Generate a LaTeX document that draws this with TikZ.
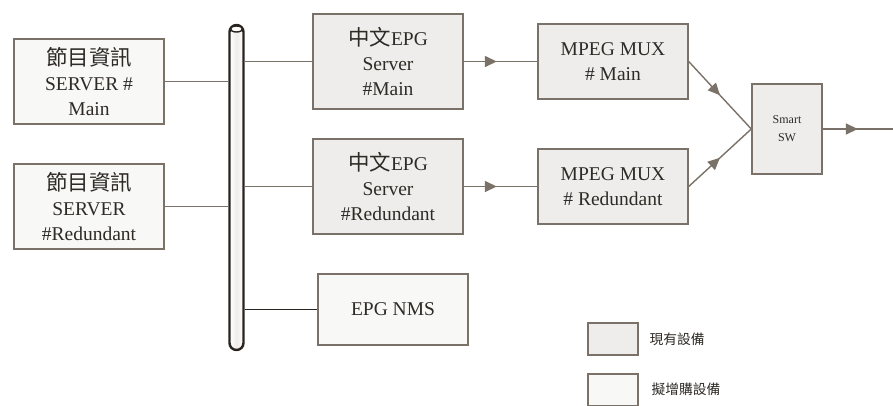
\documentclass[tikz,border=0pt]{standalone}
\usepackage{fontspec}
\setmainfont{Liberation Serif}
\newfontfamily\cjk[Scale=1.1]{Noto Sans CJK TC}
\usetikzlibrary{arrows.meta,decorations.markings,positioning}
\definecolor{edge}{HTML}{7A7268}
\definecolor{oldfill}{HTML}{EFEDEB}
\definecolor{newfill}{HTML}{F8F8F6}
\definecolor{busline}{HTML}{2A2420}
\definecolor{ink}{HTML}{2E2A26}
\tikzset{
  box/.style={draw=edge, line width=1.4pt, minimum width=150pt, align=center,
    text=ink, font=\fontsize{19.5}{25}\selectfont, inner sep=2pt},
  oldbox/.style={box, fill=oldfill},
  newbox/.style={box, fill=newfill},
  wire/.style={draw=edge, line width=1.4pt},
  flow/.style={wire, postaction={decorate}, decoration={markings,
    mark=at position #1 with {\arrow[edge]{Triangle[length=12pt,width=11pt]}}}},
  flow/.default=0.45,
  legbox/.style={draw=edge, line width=1.4pt, minimum width=50pt, minimum height=32pt},
  legtext/.style={text=ink, font=\cjk\fontsize{12.5}{14}\selectfont, anchor=west},
}
\begin{document}
\begin{tikzpicture}[x=1pt, y=-1pt]
\useasboundingbox (0,0) rectangle (893,405);

% left-hand program-info servers
\node[newbox, minimum height=85pt] (srvA) at (89,81.5)
  {{\cjk 節目資訊}\\SERVER \#\\Main};
\node[newbox, minimum height=85pt] (srvB) at (89,206.5)
  {{\cjk 節目資訊}\\SERVER\\\#Redundant};

% the network bus
\node[draw=busline, line width=2.4pt, rounded corners=7pt,
  minimum width=14pt, minimum height=325pt, inner sep=0pt,
  top color=white, bottom color=white, middle color=oldfill,
  shading angle=90] (bus) at (236.5,187.5) {};
\draw[busline, line width=1.4pt, fill=white] (236.5,29) ellipse (6pt and 3pt);

% EPG servers
\node[oldbox, minimum height=95pt] (epgA) at (388,61.5)
  {{\cjk 中文}EPG\\Server\\\#Main};
\node[oldbox, minimum height=95pt] (epgB) at (388,186.5)
  {{\cjk 中文}EPG\\Server\\\#Redundant};
\node[newbox, minimum height=71pt] (nms) at (393,309.5) {EPG NMS};

% multiplexers
\node[oldbox, minimum height=75pt] (muxA) at (613,61.5) {MPEG MUX\\\# Main};
\node[oldbox, minimum height=75pt] (muxB) at (613,186.5) {MPEG MUX\\\# Redundant};

% switch
\node[oldbox, minimum width=70pt, minimum height=90pt,
  font=\fontsize{12}{18}\selectfont] (sw) at (787,129) {Smart\\SW};
\coordinate (out) at (893,129);

% bus taps
\draw[wire] (srvA.east) -- (srvA.east -| bus.west);
\draw[wire] (srvB.east) -- (srvB.east -| bus.west);
\draw[wire] (epgA.west -| bus.east) -- (epgA.west);
\draw[wire] (epgB.west -| bus.east) -- (epgB.west);
\draw[wire, draw=busline] (nms.west -| bus.east) -- (nms.west);

% signal flow
\draw[flow] (epgA.east) -- (muxA.west);
\draw[flow] (epgB.east) -- (muxB.west);
\draw[flow=0.5] (muxA.east) -- (sw.west);
\draw[flow=0.5] (muxB.east) -- (sw.west);
\draw[flow=0.5] (sw.east) -- (out);

% legend
\node[legbox, fill=oldfill] (legA) at (613,339) {};
\node[legtext] (legAt) at (646,339) {現有設備};
\node[legbox, fill=newfill] (legB) at (613,390) {};
\node[legtext] (legBt) at (648,389) {擬增購設備};
\end{tikzpicture}
\end{document}
